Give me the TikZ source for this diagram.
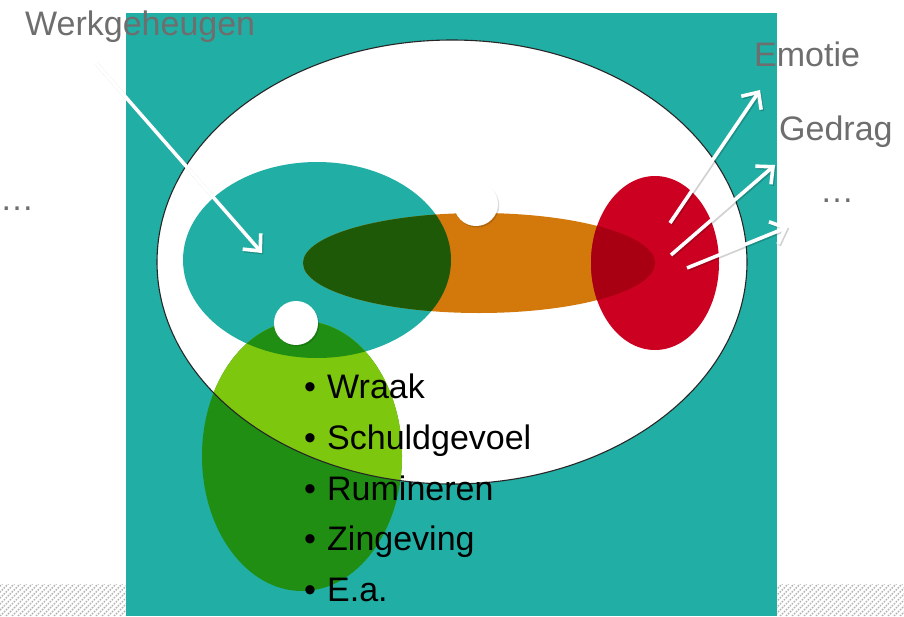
\documentclass[tikz,border=0pt]{standalone}
\usepackage{fontspec}
\setmainfont{Liberation Sans}
\usetikzlibrary{arrows.meta}
\definecolor{teal1}{HTML}{21AFA5}
\definecolor{orng}{HTML}{D3780B}
\definecolor{dkgreen}{HTML}{1E5908}
\definecolor{redc}{HTML}{CC0020}
\definecolor{dkred}{HTML}{A80012}
\definecolor{ltgreen}{HTML}{7DC70F}
\definecolor{grn}{HTML}{1F8E12}
\definecolor{txtgray}{HTML}{6E6E6E}
\definecolor{hatch}{HTML}{B4B4B4}
\begin{document}
\begin{tikzpicture}[x=1pt,y=-1pt,
  warrow/.style={draw=white,line width=3.6pt,-{Straight Barb[length=13pt,width=24pt,line width=3.6pt]}},
  wshadow/.style={draw=black,draw opacity=0.18,line width=3.6pt,-{Straight Barb[length=13pt,width=24pt,line width=3.6pt]},transform canvas={shift={(1.2pt,-1.4pt)}}},
  lbl/.style={text=txtgray,font=\fontsize{34}{40}\selectfont,anchor=base west,inner sep=0pt},
  item/.style={text=black,font=\fontsize{34}{40}\selectfont,anchor=base west,inner sep=0pt},
  hatchline/.style={draw=hatch,line width=1.4pt,dash pattern=on 1.6pt off 1.2pt}]
\useasboundingbox (0,0) rectangle (904,616);
\fill[white] (0,0) rectangle (904,616);
% hatched strips
\begin{scope}
  \clip (0,584) rectangle (126,616) (777,584) rectangle (904,616);
  \foreach \i in {-40,-34,...,940} { \draw[hatchline] (\i,620) -- (\i+40,580); }
\end{scope}
% teal background
\fill[teal1] (126,13) rectangle (777,616);
% big white ellipse
\fill[white] (452,262) ellipse [x radius=295pt, y radius=222pt];
% teal ellipse
\fill[teal1] (317,260) ellipse [x radius=134pt, y radius=98pt];
% green ellipse
\fill[grn] (302,456) ellipse [x radius=100pt, y radius=135pt];
\begin{scope}
  \clip (452,262) ellipse [x radius=295pt, y radius=222pt];
  \fill[ltgreen] (302,456) ellipse [x radius=100pt, y radius=135pt];
\end{scope}
\begin{scope}
  \clip (317,260) ellipse [x radius=134pt, y radius=98pt];
  \fill[grn] (302,456) ellipse [x radius=100pt, y radius=135pt];
\end{scope}
% orange and red
\fill[orng] (479,263) ellipse [x radius=176pt, y radius=50pt];
\fill[redc] (655,263) ellipse [x radius=64pt, y radius=87pt];
\begin{scope}
  \clip (655,263) ellipse [x radius=64pt, y radius=87pt];
  \fill[dkred] (479,263) ellipse [x radius=176pt, y radius=50pt];
\end{scope}
\begin{scope}
  \clip (317,260) ellipse [x radius=134pt, y radius=98pt];
  \fill[dkgreen] (479,263) ellipse [x radius=176pt, y radius=50pt];
\end{scope}
% outline of big ellipse
\draw[black!85,line width=1.1pt] (452,262) ellipse [x radius=295pt, y radius=222pt];
% white circles with faint shadow
\fill[black,opacity=0.15] (477.2,205.5) circle [radius=22pt];
\fill[white] (476,204) circle [radius=22pt];
\fill[black,opacity=0.15] (297.2,324.5) circle [radius=22pt];
\fill[white] (296,323) circle [radius=22pt];
% arrows
\coordinate (wS) at (95,62);
\coordinate (wE) at (262,253);
\coordinate (e1S) at (670,223);
\coordinate (e1E) at (760,90);
\coordinate (e2S) at (671,255);
\coordinate (e2E) at (775,165);
\coordinate (e3S) at (687,268);
\coordinate (e3E) at (788,227);
\draw[wshadow] (wS) -- (wE);
\draw[wshadow] (e1S) -- (e1E);
\draw[wshadow] (e2S) -- (e2E);
\draw[wshadow] (e3S) -- (e3E);
\draw[warrow] (wS) -- (wE);
\draw[warrow] (e1S) -- (e1E);
\draw[warrow] (e2S) -- (e2E);
\draw[warrow] (e3S) -- (e3E);
% labels
\node[lbl] (werk) at (25,35) {Werkgeheugen};
\node[lbl] (emo) at (754,66) {Emotie};
\node[lbl] (ged) at (779,140) {Gedrag};
\node[lbl] (dotsR) at (820,202) {…};
\node[lbl] (dotsL) at (0,210) {…};
% bullet list
\node[item] (i1) at (304,398) {\makebox[23pt][l]{•}Wraak};
\node[item] (i2) at (304,449) {\makebox[23pt][l]{•}Schuldgevoel};
\node[item] (i3) at (304,500) {\makebox[23pt][l]{•}Rumineren};
\node[item] (i4) at (304,550) {\makebox[23pt][l]{•}Zingeving};
\node[item] (i5) at (304,601) {\makebox[23pt][l]{•}E.a.};
\end{tikzpicture}
\end{document}
